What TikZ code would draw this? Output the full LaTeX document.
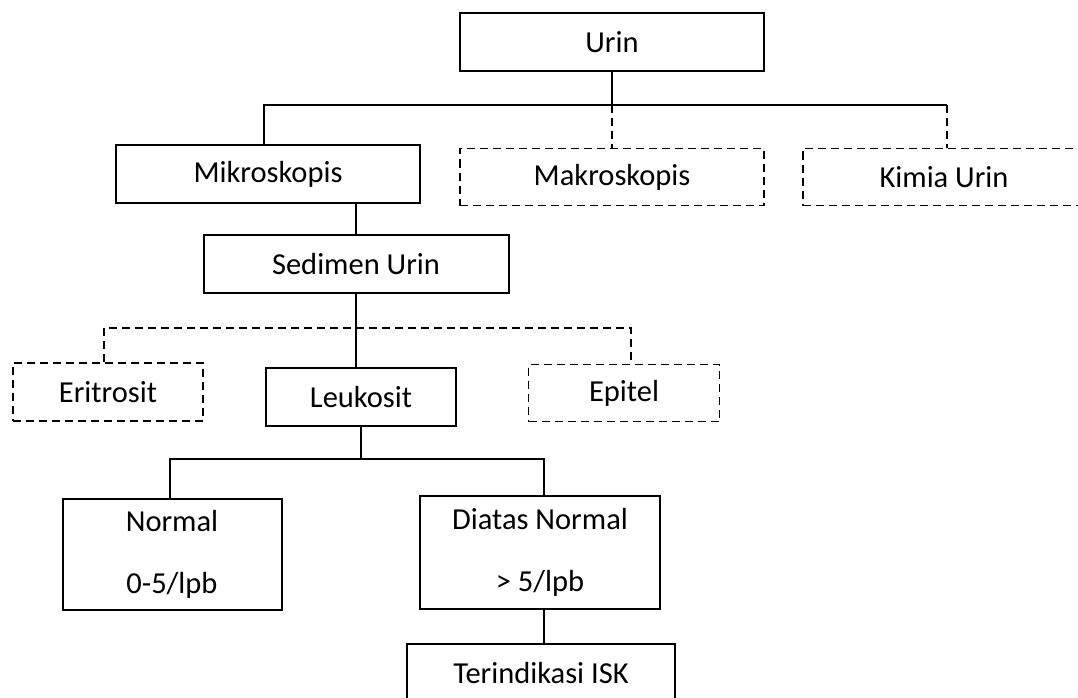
\documentclass[tikz,border=0pt]{standalone}
\usepackage{fontspec}
\setmainfont{Carlito}
\tikzset{
  box/.style={draw, line width=2pt, inner sep=0pt, align=center,
    font=\fontsize{30.5}{62}\selectfont},
  dbox/.style={box, line width=1.7pt, dash pattern=on 8pt off 5pt},
  conn/.style={draw, line width=2pt},
  dconn/.style={draw, line width=1.7pt, dash pattern=on 8pt off 5pt},
}
\begin{document}
\begin{tikzpicture}[x=1pt,y=-1pt]
\useasboundingbox (0,0) rectangle (1078,698);
\clip (0,0) rectangle (1078,698);
\node[box, minimum width=304pt, minimum height=58pt] (urin) at (612,42) {Urin};
\node[box, minimum width=304pt, minimum height=58pt] (mik) at (268,174) {Mikroskopis};
\node[dbox, minimum width=304pt, minimum height=57pt] (mak) at (612,177) {Makroskopis};
\node[dbox, minimum width=282pt, minimum height=57pt] (kim) at (944,177) {Kimia Urin};
\node[box, minimum width=305pt, minimum height=58pt] (sed) at (356,264) {Sedimen Urin};
\node[dbox, minimum width=190pt, minimum height=58pt] (eri) at (108,392) {Eritrosit};
\node[box, minimum width=190pt, minimum height=58pt] (leu) at (361,397) {Leukosit};
\node[dbox, minimum width=191pt, minimum height=57pt] (epi) at (624,393) {Epitel};
\node[box, minimum width=219pt, minimum height=111pt] (nor) at (172,554) {Normal\\0-5/lpb};
\node[box, minimum width=240pt, minimum height=113pt] (dia) at (540,552) {Diatas Normal\\> 5/lpb};
\node[box, minimum width=268pt, minimum height=58pt] (isk) at (541,673) {Terindikasi ISK};

\coordinate (j1) at (612,105);
\coordinate (hL) at (264,105);
\coordinate (hR) at (947,105);
\draw[conn] (urin.south) -- (j1);
\draw[conn] (hL |- mik.north) -- (hL) -- (hR);
\draw[dconn] (j1) -- (mak.north);
\draw[dconn] (hR) -- (hR |- kim.north);

\draw[conn] (mik.south -| sed.north) -- (sed.north);

\coordinate (j2) at (356,328);
\coordinate (eL) at (104,328);
\coordinate (eR) at (631,328);
\draw[dconn] (eL |- eri.north) -- (eL) -- (eR) -- (eR |- epi.north);
\draw[conn] (sed.south) -- (j2) -- (j2 |- leu.north);

\coordinate (j3) at (361,459);
\coordinate (nL) at (170,459);
\coordinate (nR) at (544,459);
\draw[conn] (leu.south) -- (j3);
\draw[conn] (nL |- nor.north) -- (nL) -- (nR) -- (nR |- dia.north);
\draw[conn] (nR |- dia.south) -- (nR |- isk.north);
\end{tikzpicture}
\end{document}
